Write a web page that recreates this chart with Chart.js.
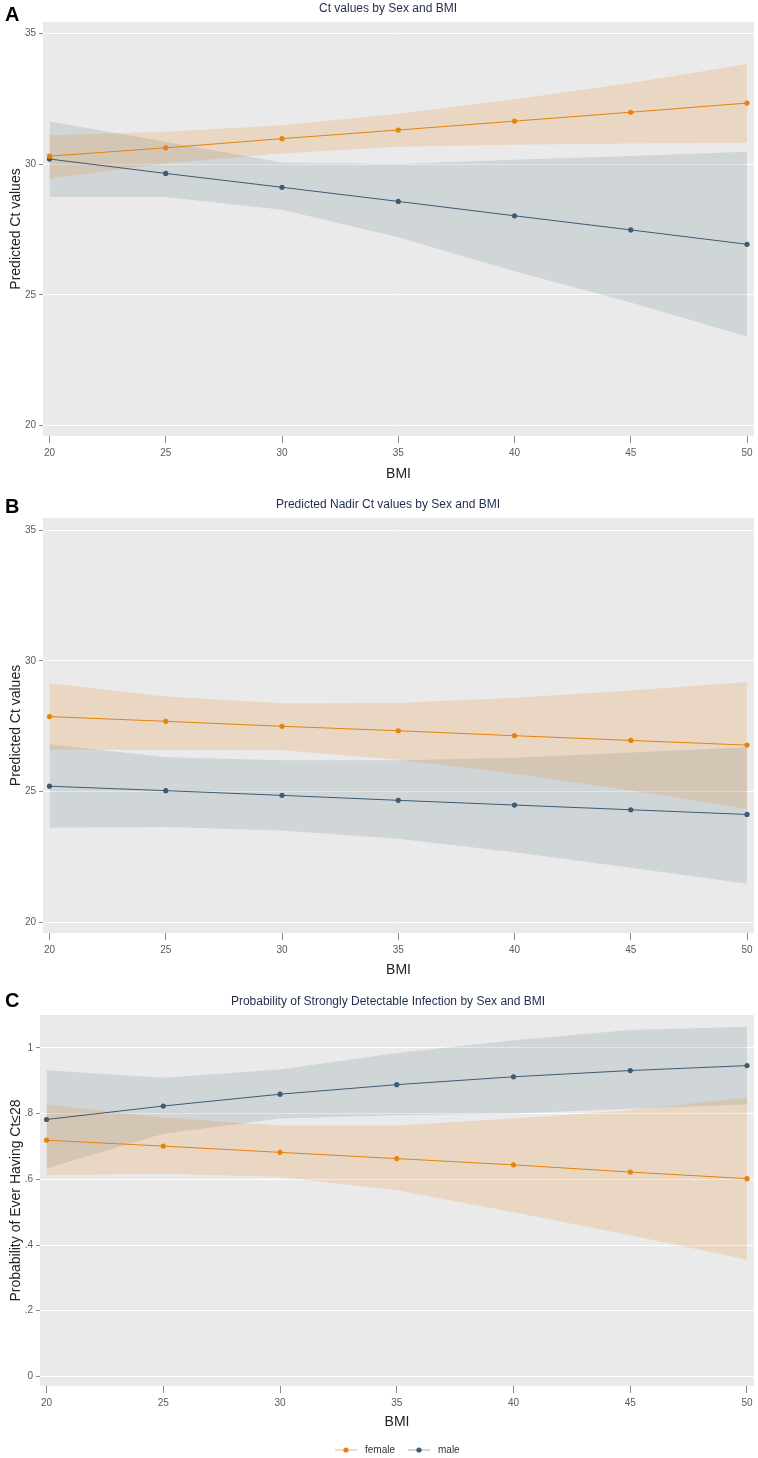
<!DOCTYPE html>
<html>
<head>
<meta charset="utf-8">
<script src="https://cdn.jsdelivr.net/npm/chart.js@4.4.1/dist/chart.umd.min.js"></script>
<style>
  html, body { margin: 0; padding: 0; background: #fff; }
  #wrap { position: relative; width: 758px; height: 1458px; }
  .panel { position: absolute; left: 0; width: 758px; }
</style>
</head>
<body>
<div id="wrap">
  <div class="panel" style="top:0;height:484px"><canvas id="chartA"></canvas></div>
  <div class="panel" style="top:490px;height:490px"><canvas id="chartB"></canvas></div>
  <div class="panel" style="top:988px;height:470px"><canvas id="chartC"></canvas></div>
</div>
<script>
// x categories (BMI)
const bmi = [20, 25, 30, 35, 40, 45, 50];
const xTicks = [20, 25, 30, 35, 40, 45, 50];

// A: Ct values
const ctFemale      = [30.30, 30.62, 30.97, 31.30, 31.64, 31.98, 32.33];
const ctFemaleUpper = [31.10, 31.23, 31.48, 31.92, 32.48, 33.10, 33.82];
const ctFemaleLower = [29.45, 30.03, 30.40, 30.66, 30.74, 30.78, 30.81];
const ctMale        = [30.19, 29.64, 29.11, 28.57, 28.02, 27.48, 26.93];
const ctMaleUpper   = [31.63, 30.85, 30.06, 30.00, 30.16, 30.31, 30.47];
const ctMaleLower   = [28.74, 28.74, 28.25, 27.20, 25.90, 24.70, 23.40];

// B: Nadir Ct values
const nadirFemale      = [27.87, 27.69, 27.50, 27.33, 27.14, 26.96, 26.78];
const nadirFemaleUpper = [29.14, 28.64, 28.38, 28.39, 28.59, 28.87, 29.19];
const nadirFemaleLower = [26.60, 26.60, 26.58, 26.22, 25.69, 25.05, 24.35];
const nadirMale        = [25.21, 25.04, 24.86, 24.67, 24.49, 24.31, 24.13];
const nadirMaleUpper   = [26.81, 26.32, 26.20, 26.20, 26.30, 26.50, 26.70];
const nadirMaleLower   = [23.62, 23.65, 23.52, 23.20, 22.69, 22.09, 21.48];

// C: probability of Ct<=28
const probFemale      = [0.719, 0.701, 0.682, 0.663, 0.644, 0.622, 0.602];
const probFemaleUpper = [0.828, 0.788, 0.764, 0.764, 0.785, 0.810, 0.849];
const probFemaleLower = [0.612, 0.617, 0.607, 0.567, 0.500, 0.430, 0.355];
const probMale        = [0.782, 0.823, 0.859, 0.888, 0.912, 0.931, 0.946];
const probMaleUpper   = [0.932, 0.909, 0.934, 0.984, 1.023, 1.054, 1.064];
const probMaleLower   = [0.633, 0.739, 0.785, 0.795, 0.800, 0.815, 0.828];

const yTicksCt = [20, 25, 30, 35];
const yTicksProb = [0, 0.2, 0.4, 0.6, 0.8, 1];
const yTickLabelsProb = ['0', '.2', '.4', '.6', '.8', '1'];

const seriesNames = ['female', 'male'];

const FEMALE = '#e5830f';
const MALE = '#3e5b74';
const FEMALE_FILL = 'rgba(232,135,20,0.18)';
const MALE_FILL = 'rgba(62,91,116,0.15)';
const FONT = '"Liberation Sans", Arial, Helvetica, sans-serif';

function pts(ys) {
  return bmi.map((x, i) => ({ x: x, y: ys[i] }));
}

function buildDatasets(f, fu, fl, m, mu, ml) {
  const band = (data, fill, color) => ({
    data: pts(data), fill: fill, backgroundColor: color,
    borderWidth: 0, pointRadius: 0, tension: 0
  });
  const line = (data, color, label) => ({
    label: label, data: pts(data), fill: false, borderColor: color,
    backgroundColor: color, borderWidth: 1, pointRadius: 2.6,
    pointBorderWidth: 0, pointBackgroundColor: color, tension: 0
  });
  return [
    line(f, FEMALE, seriesNames[0]),
    line(m, MALE, seriesNames[1]),
    band(fu, '+1', FEMALE_FILL),
    band(fl, false, FEMALE_FILL),
    band(mu, '+1', MALE_FILL),
    band(ml, false, MALE_FILL)
  ];
}

// gray plot background, panel letter, title and (optional) legend
const decorPlugin = {
  id: 'decor',
  beforeDraw(chart) {
    const a = chart.chartArea;
    const ctx = chart.ctx;
    ctx.save();
    ctx.fillStyle = '#eaeaea';
    ctx.fillRect(a.left, a.top, a.right - a.left, a.bottom - a.top);
    ctx.restore();
  },
  afterDraw(chart, args, opts) {
    const ctx = chart.ctx;
    ctx.save();
    ctx.fillStyle = '#000';
    ctx.font = 'bold 20px ' + FONT;
    ctx.textAlign = 'left';
    ctx.textBaseline = 'alphabetic';
    ctx.fillText(opts.letter, 5, opts.letterY);

    ctx.fillStyle = '#1f2c4c';
    ctx.font = '12px ' + FONT;
    ctx.textAlign = 'center';
    ctx.textBaseline = 'middle';
    ctx.fillText(opts.title, 388, opts.titleY);

    if (opts.legend) {
      const y = opts.legendY;
      const keys = [
        { x: 335, color: FEMALE, line: '#f1cfa6', text: seriesNames[0] },
        { x: 408, color: MALE, line: '#bcc6cf', text: seriesNames[1] }
      ];
      ctx.font = '10px ' + FONT;
      ctx.textAlign = 'left';
      keys.forEach(k => {
        ctx.strokeStyle = k.line;
        ctx.lineWidth = 1.5;
        ctx.beginPath();
        ctx.moveTo(k.x, y);
        ctx.lineTo(k.x + 22, y);
        ctx.stroke();
        ctx.fillStyle = k.color;
        ctx.beginPath();
        ctx.arc(k.x + 11, y, 2.6, 0, Math.PI * 2);
        ctx.fill();
        ctx.fillStyle = '#333';
        ctx.fillText(k.text, k.x + 30, y);
      });
    }
    ctx.restore();
  }
};

function makeChart(id, cfg) {
  return new Chart(document.getElementById(id), {
    type: 'line',
    data: { datasets: cfg.datasets },
    plugins: [decorPlugin],
    options: {
      responsive: true,
      maintainAspectRatio: false,
      animation: false,
      layout: { padding: { top: cfg.padTop, right: 3, bottom: cfg.padBottom, left: 0 } },
      plugins: {
        legend: { display: false },
        tooltip: { enabled: false },
        decor: cfg.decor
      },
      scales: {
        x: {
          type: 'linear',
          min: 19.72,
          max: 50.3,
          afterBuildTicks: s => { s.ticks = xTicks.map(v => ({ value: v })); },
          afterFit: s => { s.height = cfg.xHeight; },
          ticks: { color: '#5a5a5a', font: { family: FONT, size: 10 }, padding: 4, maxRotation: 0 },
          grid: { drawOnChartArea: false, tickColor: '#8a8a8a', tickLength: 7 },
          border: { display: false },
          title: { display: true, text: 'BMI', color: '#222', font: { family: FONT, size: 14 }, padding: { top: 2, bottom: 1 } }
        },
        y: {
          min: cfg.yMin,
          max: cfg.yMax,
          afterBuildTicks: s => { s.ticks = cfg.yTicks.map(v => ({ value: v })); },
          afterFit: s => { s.width = cfg.yWidth; },
          ticks: {
            color: '#5a5a5a', font: { family: FONT, size: 10 }, padding: 3,
            callback: cfg.yLabel
          },
          grid: { color: '#ffffff', lineWidth: 1, tickColor: '#8a8a8a', tickLength: 4 },
          border: { display: false },
          title: { display: true, text: cfg.yTitle, color: '#222', font: { family: FONT, size: 14 }, padding: { top: 8, bottom: 2 } }
        }
      }
    }
  });
}

makeChart('chartA', {
  datasets: buildDatasets(ctFemale, ctFemaleUpper, ctFemaleLower, ctMale, ctMaleUpper, ctMaleLower),
  padTop: 22, padBottom: 0, xHeight: 48, yWidth: 43,
  yMin: 19.6, yMax: 35.43, yTicks: yTicksCt, yLabel: v => String(v),
  yTitle: 'Predicted Ct values',
  decor: { letter: 'A', letterY: 21, title: 'Ct values by Sex and BMI', titleY: 9 }
});

makeChart('chartB', {
  datasets: buildDatasets(nadirFemale, nadirFemaleUpper, nadirFemaleLower, nadirMale, nadirMaleUpper, nadirMaleLower),
  padTop: 28, padBottom: 0, xHeight: 47, yWidth: 43,
  yMin: 19.6, yMax: 35.46, yTicks: yTicksCt, yLabel: v => String(v),
  yTitle: 'Predicted Ct values',
  decor: { letter: 'B', letterY: 23, title: 'Predicted Nadir Ct values by Sex and BMI', titleY: 15 }
});

makeChart('chartC', {
  datasets: buildDatasets(probFemale, probFemaleUpper, probFemaleLower, probMale, probMaleUpper, probMaleLower),
  padTop: 27, padBottom: 26, xHeight: 46, yWidth: 40,
  yMin: -0.029, yMax: 1.1, yTicks: yTicksProb,
  yLabel: v => yTickLabelsProb[yTicksProb.indexOf(v)] !== undefined ? yTickLabelsProb[yTicksProb.indexOf(v)] : String(v),
  yTitle: 'Probability of Ever Having Ct\u226428',
  decor: { letter: 'C', letterY: 19, title: 'Probability of Strongly Detectable Infection by Sex and BMI', titleY: 14, legend: true, legendY: 462 }
});
</script>
</body>
</html>
